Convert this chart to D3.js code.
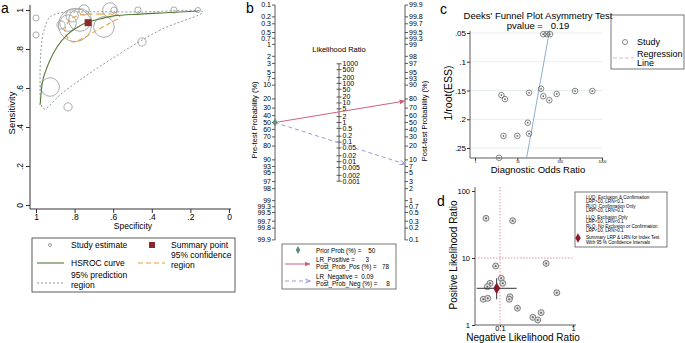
<!DOCTYPE html>
<html><head><meta charset="utf-8">
<script src="https://cdn.jsdelivr.net/npm/d3@7"></script>
<style>
body{margin:0;background:#fff;}
svg{display:block;font-family:"Liberation Sans",Arial,Helvetica,sans-serif;}
</style></head><body>
<svg id="chart" width="685" height="343"></svg>
<script>
// ================= DATA =================
// Panel a: SROC
const studySpecA = [1.0, 1.0, 0.870, 0.927, 0.834, 0.798, 0.772, 0.751, 0.834, 0.648, 0.617, 0.596, 0.472, 0.285, 0.161, 0.451, 0.813];
const studySensA = [0.959, 0.872, 0.923, 0.605, 0.503, 0.923, 0.949, 1.0, 0.933, 0.913, 1.0, 1.0, 1.0, 1.0, 1.0, 0.836, 0.97];
const studyWeightA = [9, 9, 16, 81, 16, 256, 121, 25, 64, 100, 49, 9, 9, 9, 6, 16, 36];
const summarySpecA = 0.73, summarySensA = 0.935;
const hsrocSpec = [0.979, 0.969, 0.948, 0.927, 0.891, 0.839, 0.782, 0.731, 0.668, 0.601, 0.461, 0.306, 0.161];
const hsrocSens = [0.513, 0.615, 0.692, 0.744, 0.810, 0.872, 0.913, 0.938, 0.954, 0.969, 0.979, 0.987, 0.995];
const confSpec = [0.772, 0.668, 0.575, 0.565, 0.617, 0.684, 0.756, 0.808, 0.839, 0.850, 0.824];
const confSens = [0.974, 0.979, 0.974, 0.964, 0.933, 0.897, 0.856, 0.836, 0.862, 0.897, 0.949];
const predSpec = [0.135, 0.357, 0.617, 0.772, 0.876, 0.938, 0.959, 0.974, 0.979, 0.974, 0.959, 0.927, 0.876, 0.772, 0.461];
const predSens = [0.99, 0.897, 0.744, 0.641, 0.564, 0.503, 0.492, 0.518, 0.641, 0.795, 0.897, 0.964, 0.985, 0.99, 0.99];
const axisTicksA = [0, 0.2, 0.4, 0.6, 0.8, 1];

// Panel b: Fagan nomogram
const preTicks = [0.1,0.2,0.3,0.5,0.7,1,2,3,5,7,10,20,30,40,50,60,70,80,90,93,95,97,98,99,99.3,99.5,99.7,99.8,99.9];
const lrTicks = [1000,500,200,100,50,20,10,5,2,1,0.5,0.2,0.1,0.05,0.02,0.01,0.005,0.002,0.001];
const priorProb = 50, lrPositive = 3, postProbPos = 78, lrNegative = 0.09, postProbNeg = 8;

// Panel c: Deeks' funnel plot
const deeksDOR = [41, 49.5, 59, 4.2, 5.1, 18.9, 36.3, 41, 57, 85, 231, 593, 17.6, 4.7, 10, 18.9, 3.7];
const deeksESS = [0.052, 0.052, 0.052, 0.158, 0.165, 0.154, 0.147, 0.16, 0.167, 0.156, 0.151, 0.151, 0.206, 0.229, 0.229, 0.225, 0.267];
const regDOR = [58, 16.5];
const regESS = [0.045, 0.268];
const essTicks = [0.05, 0.1, 0.15, 0.2, 0.25];
const dorTicks = [1, 10, 100, 1000];
const pValue = 0.19;

// Panel d: likelihood ratio scattergram
const lrnStudies = [0.0643, 0.149, 0.0873, 0.427, 0.104, 0.109, 0.073, 0.067, 0.598, 0.137, 0.134, 0.059, 0.068, 0.173, 0.281, 0.365, 0.328];
const lrpStudies = [39.1, 36.0, 7.6, 8.3, 4.98, 4.19, 4.19, 3.73, 3.03, 2.64, 2.42, 2.42, 2.50, 1.78, 1.30, 1.53, 1.19];
const summaryLRN = 0.09, summaryLRNlo = 0.048, summaryLRNhi = 0.169;
const summaryLRP = 3.53, summaryLRPlo = 2.42, summaryLRPhi = 4.98;
const lrpTicks = [1, 10, 100];
const lrnTicks = [0.1, 1];
const legendDLines = ["LUQ: Exclusion & Confirmation","LRP>10, LRN<0.1","RUQ: Confirmation Only","LRP>10, LRN>0.1",
  "LLQ: Exclusion Only","LRP<10, LRN<0.1","RLQ: No Exclusion or Confirmation","LRP<10, LRN>0.1"];
const legendDSummary = ["Summary LRP & LRN for Index Test","With 95 % Confidence Intervals"];

// ================= DRAW =================
const svg = d3.select("#chart");
svg.append("rect").attr("width",685).attr("height",343).attr("fill","#fff");

function letter(x,y,t){svg.append("text").attr("x",x).attr("y",y).text(t).style("font-size","14px").attr("fill","#000");}

// ---------- Panel a ----------
const gA = svg.append("g");
const xA = d3.scaleLinear().domain([1,0]).range([36,229]);
const yA = d3.scaleLinear().domain([0,1]).range([205,10]);
const fmtA = v => v===0?"0":v===1?"1":String(v).replace("0.",".");
letter(1,13,"a");
gA.append("line").attr("x1",30).attr("x2",30).attr("y1",5).attr("y2",209).attr("stroke","#333");
gA.append("line").attr("x1",30).attr("x2",231).attr("y1",209).attr("y2",209).attr("stroke","#333");
gA.append("g").attr("transform","translate(30,0)")
  .call(d3.axisLeft(yA).tickValues(axisTicksA).tickFormat(fmtA).tickSize(4).tickSizeOuter(0))
  .call(g=>{g.select(".domain").remove();
    g.selectAll("line").attr("stroke","#333");
    g.selectAll("text").attr("transform","rotate(-90)").attr("x",0).attr("y",-7).attr("dy",0)
     .attr("text-anchor","middle").style("font-size","8.5px").style("font-family","inherit");});
gA.append("g").attr("transform","translate(0,209)")
  .call(d3.axisBottom(xA).tickValues(axisTicksA).tickFormat(fmtA).tickSize(4).tickSizeOuter(0))
  .call(g=>{g.select(".domain").remove();
    g.selectAll("line").attr("stroke","#333");
    g.selectAll("text").attr("y",5).style("font-size","8.5px").style("font-family","inherit");});
gA.append("text").attr("transform","translate(15,113) rotate(-90)").attr("text-anchor","middle")
  .style("font-size","9.5px").text("Sensitivity");
gA.append("text").attr("x",133).attr("y",229).attr("text-anchor","middle").style("font-size","8.5px").text("Specificity");

const rA = d3.scaleSqrt().domain([0,256]).range([0,16.5]);
const lineA = d3.line().x(d=>xA(d[0])).y(d=>yA(d[1]));
gA.append("path").datum(d3.zip(predSpec,predSens))
  .attr("d",lineA.curve(d3.curveCatmullRomClosed.alpha(0.5))).attr("fill","none")
  .attr("stroke","#7d8e96").attr("stroke-width",0.9).attr("stroke-dasharray","2,2");
gA.selectAll("circle.st").data(d3.range(studySpecA.length)).join("circle")
  .attr("cx",i=>xA(studySpecA[i])).attr("cy",i=>yA(studySensA[i])).attr("r",i=>rA(studyWeightA[i]))
  .attr("fill","none").attr("stroke","#a0a0a0").attr("stroke-width",0.9);
gA.append("path").datum(d3.zip(confSpec,confSens))
  .attr("d",d3.line().x(d=>xA(d[0])).y(d=>yA(d[1])).curve(d3.curveCatmullRomClosed.alpha(0.5)))
  .attr("fill","none").attr("stroke","#e8a040").attr("stroke-width",1.1).attr("stroke-dasharray","5,3");
gA.append("path").datum(d3.zip(hsrocSpec,hsrocSens))
  .attr("d",d3.line().x(d=>xA(d[0])).y(d=>yA(d[1])).curve(d3.curveMonotoneX))
  .attr("fill","none").attr("stroke","#557a35").attr("stroke-width",1.1);
gA.append("rect").attr("x",xA(summarySpecA)-3.5).attr("y",yA(summarySensA)-3.5).attr("width",7).attr("height",7).attr("fill","#8b2a2a");
const lgA = gA.append("g");
lgA.append("rect").attr("x",32).attr("y",238).attr("width",203).attr("height",54).attr("fill","none").attr("stroke","#333").attr("stroke-width",0.8);
lgA.append("circle").attr("cx",50).attr("cy",245).attr("r",1.5).attr("fill","none").attr("stroke","#999");
lgA.append("rect").attr("x",149).attr("y",242).attr("width",6).attr("height",6).attr("fill","#8b2a2a");
lgA.append("line").attr("x1",37).attr("x2",64).attr("y1",263).attr("y2",263).attr("stroke","#557a35").attr("stroke-width",1.1);
lgA.append("line").attr("x1",138).attr("x2",165).attr("y1",263).attr("y2",263).attr("stroke","#e8a040").attr("stroke-width",1.1).attr("stroke-dasharray","5,3");
lgA.append("line").attr("x1",37).attr("x2",64).attr("y1",283).attr("y2",283).attr("stroke","#7d8e96").attr("stroke-width",0.9).attr("stroke-dasharray","2,2");
[["Study estimate",71,248],["Summary point",171,248],["HSROC curve",71,266],["95% confidence",171,258],["region",171,268],["95% prediction",71,278],["region",71,288]]
  .forEach(([t,x,y])=>lgA.append("text").attr("x",x).attr("y",y).style("font-size","8.5px").text(t));

// ---------- Panel b ----------
const gB = svg.append("g");
letter(246,13,"b");
const logit = p => Math.log(p/(1-p));
const kB = 17, cB = 122.5, L = logit(0.999);
const preY = d3.scaleLinear().domain([-L, L]).range([cB - kB*L, cB + kB*L]);
const postY = d3.scaleLinear().domain([-L, L]).range([cB + kB*L, cB - kB*L]);
const lrY = d3.scaleLog().domain([0.001,1000]).range([cB + kB/2*Math.log(1000), cB - kB/2*Math.log(1000)]);
const xL = 275, xM = 339, xR = 405;
const fmtP = v => String(v);
gB.append("line").attr("x1",xL).attr("x2",xL).attr("y1",preY(logit(0.001))).attr("y2",preY(logit(0.999))).attr("stroke","#333").attr("stroke-width",0.8);
gB.append("line").attr("x1",xR).attr("x2",xR).attr("y1",postY(logit(0.999))).attr("y2",postY(logit(0.001))).attr("stroke","#333").attr("stroke-width",0.8);
gB.append("line").attr("x1",xM).attr("x2",xM).attr("y1",lrY(1000)).attr("y2",lrY(0.001)).attr("stroke","#333").attr("stroke-width",0.8);
const tL = gB.append("g").selectAll("g").data(preTicks).join("g").attr("transform",d=>`translate(${xL},${preY(logit(d/100))})`);
tL.append("line").attr("x1",-3).attr("x2",0).attr("stroke","#333").attr("stroke-width",0.8);
tL.append("text").attr("x",-4).attr("dy","0.33em").attr("text-anchor","end").style("font-size","7px").text(fmtP);
const tR = gB.append("g").selectAll("g").data(preTicks).join("g").attr("transform",d=>`translate(${xR},${postY(logit(d/100))})`);
tR.append("line").attr("x1",0).attr("x2",3).attr("stroke","#333").attr("stroke-width",0.8);
tR.append("text").attr("x",4).attr("dy","0.33em").style("font-size","7px").text(fmtP);
const tM = gB.append("g").selectAll("g").data(lrTicks).join("g").attr("transform",d=>`translate(${xM},${lrY(d)})`);
tM.append("line").attr("x1",-2.5).attr("x2",2.5).attr("stroke","#333").attr("stroke-width",0.8);
tM.append("text").attr("x",3.5).attr("dy","0.33em").style("font-size","7px").text(d=>String(d));
gB.append("text").attr("x",xM).attr("y",52).attr("text-anchor","middle").style("font-size","7.5px").text("Likelihood Ratio");
gB.append("text").attr("transform","translate(257,120) rotate(-90)").attr("text-anchor","middle").style("font-size","7.5px").text("Pre-test Probability (%)");
gB.append("text").attr("transform","translate(427,121) rotate(-90)").attr("text-anchor","middle").style("font-size","7.5px").text("Post-test Probability (%)");
const defs = svg.append("defs");
defs.append("marker").attr("id","arrR").attr("viewBox","0 0 10 10").attr("refX",9).attr("refY",5).attr("markerWidth",6).attr("markerHeight",6).attr("orient","auto")
  .append("path").attr("d","M0,1 L10,5 L0,9 Z").attr("fill","#d0607a");
defs.append("marker").attr("id","arrB").attr("viewBox","0 0 10 10").attr("refX",9).attr("refY",5).attr("markerWidth",6).attr("markerHeight",6).attr("orient","auto")
  .append("path").attr("d","M0,1 L10,5 L0,9").attr("fill","none").attr("stroke","#9a9ae0").attr("stroke-width",1.5);
gB.append("line").attr("x1",xL).attr("y1",preY(logit(priorProb/100))).attr("x2",xR).attr("y2",postY(logit(postProbPos/100)))
  .attr("stroke","#d0607a").attr("stroke-width",1).attr("marker-end","url(#arrR)");
gB.append("line").attr("x1",xL).attr("y1",preY(logit(priorProb/100))).attr("x2",xR).attr("y2",postY(logit(postProbNeg/100)))
  .attr("stroke","#9a9ae0").attr("stroke-width",1).attr("stroke-dasharray","4,3").attr("marker-end","url(#arrB)");
const diamond = d3.symbol().type(d3.symbolDiamond);
gB.append("path").attr("d",diamond.size(22)()).attr("transform",`translate(${xL},${preY(logit(priorProb/100))})`).attr("fill","#5f8f78");
const lgB = gB.append("g");
lgB.append("rect").attr("x",282).attr("y",244).attr("width",114).attr("height",45).attr("fill","none").attr("stroke","#555").attr("stroke-width",0.8);
lgB.append("path").attr("d",diamond.size(18)()).attr("transform","translate(298,250)").attr("fill","#5f8f78");
lgB.append("line").attr("x1",285).attr("x2",310).attr("y1",264).attr("y2",264).attr("stroke","#d0607a").attr("stroke-width",1).attr("marker-end","url(#arrR)");
lgB.append("line").attr("x1",285).attr("x2",310).attr("y1",281).attr("y2",281).attr("stroke","#9a9ae0").attr("stroke-width",1).attr("stroke-dasharray","4,3").attr("marker-end","url(#arrB)");
[[`Prior Prob (%) =    ${priorProb}`,252.5],[`LR_Positive =      ${lrPositive}`,262],[`Post_Prob_Pos (%) =   ${postProbPos}`,269],
 [`LR_Negative =  ${lrNegative}`,279],[`Post_Prob_Neg (%) =     ${postProbNeg}`,286]]
 .forEach(([t,y])=>lgB.append("text").attr("x",316).attr("y",y).style("font-size","6.3px").style("white-space","pre").text(t));

// ---------- Panel c ----------
const gC = svg.append("g");
letter(440,14,"c");
const xC = d3.scaleLog().domain([1,1000]).range([475,602]);
const yC = d3.scaleLinear().domain([0.05,0.25]).range([33,148]);
gC.selectAll("line.grid").data(essTicks).join("line").attr("x1",470).attr("x2",603)
  .attr("y1",d=>yC(d)).attr("y2",d=>yC(d)).attr("stroke","#e1eaec").attr("stroke-width",0.8);
gC.append("line").attr("x1",470).attr("x2",470).attr("y1",31).attr("y2",158).attr("stroke","#333").attr("stroke-width",0.8);
gC.append("line").attr("x1",470).attr("x2",603).attr("y1",158).attr("y2",158).attr("stroke","#333").attr("stroke-width",0.8);
gC.append("g").attr("transform","translate(470,0)")
  .call(d3.axisLeft(yC).tickValues(essTicks).tickFormat(d=>String(d).replace("0.",".")).tickSize(3).tickSizeOuter(0))
  .call(g=>{g.select(".domain").remove(); g.selectAll("line").attr("stroke","#333");
    g.selectAll("text").attr("x",-4).style("font-size","8px").style("font-family","inherit");});
gC.append("g").attr("transform","translate(0,158)")
  .call(d3.axisBottom(xC).tickValues(dorTicks).tickFormat(d=>String(d)).tickSize(2.5).tickSizeOuter(0))
  .call(g=>{g.select(".domain").remove(); g.selectAll("line").attr("stroke","#333");
    g.selectAll("text").attr("y",3).style("font-size","3.5px").style("font-family","inherit");});
gC.append("text").attr("x",538).attr("y",19).attr("text-anchor","middle").style("font-size","9.5px").text("Deeks' Funnel Plot Asymmetry Test");
gC.append("text").attr("x",538).attr("y",29).attr("text-anchor","middle").style("font-size","9.5px").style("white-space","pre").text(`pvalue =   ${pValue}`);
gC.append("text").attr("transform","translate(452,93) rotate(-90)").attr("text-anchor","middle").style("font-size","10.5px").text("1/root(ESS)");
gC.append("text").attr("x",538).attr("y",173).attr("text-anchor","middle").style("font-size","9.5px").text("Diagnostic Odds Ratio");
gC.append("line").attr("x1",xC(regDOR[0])).attr("y1",yC(regESS[0])).attr("x2",xC(regDOR[1])).attr("y2",yC(regESS[1]))
  .attr("stroke","#7fa7c9").attr("stroke-width",0.9);
const ptC = gC.selectAll("g.pt").data(d3.range(deeksDOR.length)).join("g").attr("transform",i=>`translate(${xC(deeksDOR[i])},${yC(deeksESS[i])})`);
ptC.append("circle").attr("r",2.8).attr("fill","none").attr("stroke","#666").attr("stroke-width",0.8);
ptC.append("circle").attr("r",0.9).attr("fill","#666");
const lgC = gC.append("g");
lgC.append("rect").attr("x",611).attr("y",15).attr("width",73).attr("height",54).attr("fill","none").attr("stroke","#555").attr("stroke-width",0.8);
lgC.append("circle").attr("cx",625).attr("cy",42).attr("r",2.5).attr("fill","none").attr("stroke","#666").attr("stroke-width",0.8);
lgC.append("line").attr("x1",613).attr("x2",634).attr("y1",58).attr("y2",58).attr("stroke","#cdb6b6").attr("stroke-width",0.9).attr("stroke-dasharray","4,2");
[["Study",45],["Regression",56.5],["Line",66]].forEach(([t,y])=>lgC.append("text").attr("x",637).attr("y",y).style("font-size","9px").text(t));

// ---------- Panel d ----------
const gD = svg.append("g");
letter(437,206,"d");
const xD = d3.scaleLog().domain([0.0455,1.06]).range([475,575]);
const yD = d3.scaleLog().domain([1,100]).range([325,191]);
gD.append("line").attr("x1",475).attr("x2",475).attr("y1",187).attr("y2",325).attr("stroke","#333").attr("stroke-width",0.8);
gD.append("line").attr("x1",475).attr("x2",576).attr("y1",325).attr("y2",325).attr("stroke","#333").attr("stroke-width",0.8);
gD.append("g").attr("transform","translate(475,0)")
  .call(d3.axisLeft(yD).tickValues(lrpTicks).tickFormat(d=>String(d)).tickSize(3).tickSizeOuter(0))
  .call(g=>{g.select(".domain").remove(); g.selectAll("line").attr("stroke","#333");
    g.selectAll("text").attr("x",-5).style("font-size","7.5px").style("font-family","inherit");});
gD.append("g").attr("transform","translate(0,325)")
  .call(d3.axisBottom(xD).tickValues(lrnTicks).tickFormat(d=>String(d)).tickSize(2).tickSizeOuter(0))
  .call(g=>{g.select(".domain").remove(); g.selectAll("line").attr("stroke","#333");
    g.selectAll("text").attr("y",1).style("font-size","7.5px").style("font-family","inherit");});
gD.append("line").attr("x1",xD(0.1)).attr("x2",xD(0.1)).attr("y1",187).attr("y2",325).attr("stroke","#e07a8a").attr("stroke-width",0.8).attr("stroke-dasharray","1.5,1.5");
gD.append("line").attr("x1",475).attr("x2",573).attr("y1",yD(10)).attr("y2",yD(10)).attr("stroke","#e07a8a").attr("stroke-width",0.8).attr("stroke-dasharray","1.5,1.5");
gD.append("text").attr("transform","translate(457,255) rotate(-90)").attr("text-anchor","middle").style("font-size","10px").text("Positive Likelihood Ratio");
gD.append("text").attr("x",523).attr("y",341).attr("text-anchor","middle").style("font-size","10px").text("Negative Likelihood Ratio");
const ptD = gD.selectAll("g.pt").data(d3.range(lrnStudies.length)).join("g").attr("transform",i=>`translate(${xD(lrnStudies[i])},${yD(lrpStudies[i])})`);
ptD.append("circle").attr("r",3).attr("fill","#ddd").attr("stroke","#666").attr("stroke-width",0.8);
ptD.append("circle").attr("r",1).attr("fill","#666");
gD.append("line").attr("x1",xD(summaryLRNlo)).attr("x2",xD(summaryLRNhi)).attr("y1",yD(summaryLRP)).attr("y2",yD(summaryLRP)).attr("stroke","#333").attr("stroke-width",1);
gD.append("line").attr("x1",xD(summaryLRN)).attr("x2",xD(summaryLRN)).attr("y1",yD(summaryLRPlo)).attr("y2",yD(summaryLRPhi)).attr("stroke","#333").attr("stroke-width",1);
gD.append("path").attr("d",diamond.size(40)()).attr("transform",`translate(${xD(summaryLRN)},${yD(summaryLRP)})`).attr("fill","#8b1a2a");
const lgD = gD.append("g");
lgD.append("rect").attr("x",575).attr("y",192).attr("width",92).attr("height",55).attr("fill","none").attr("stroke","#555").attr("stroke-width",0.8);
const ysD = [197, 201.5, 206, 210.5, 217, 221.5, 226, 230.5];
legendDLines.forEach((t,i)=>lgD.append("text").attr("x",586).attr("y",ysD[i]+1.5).style("font-size","4.6px").text(t));
legendDSummary.forEach((t,i)=>lgD.append("text").attr("x",586).attr("y",239+i*4.6).style("font-size","4.6px").text(t));
lgD.append("path").attr("d",diamond.size(26)()).attr("transform","translate(578,238)").attr("fill","#8b1a2a");
</script>
</body></html>
